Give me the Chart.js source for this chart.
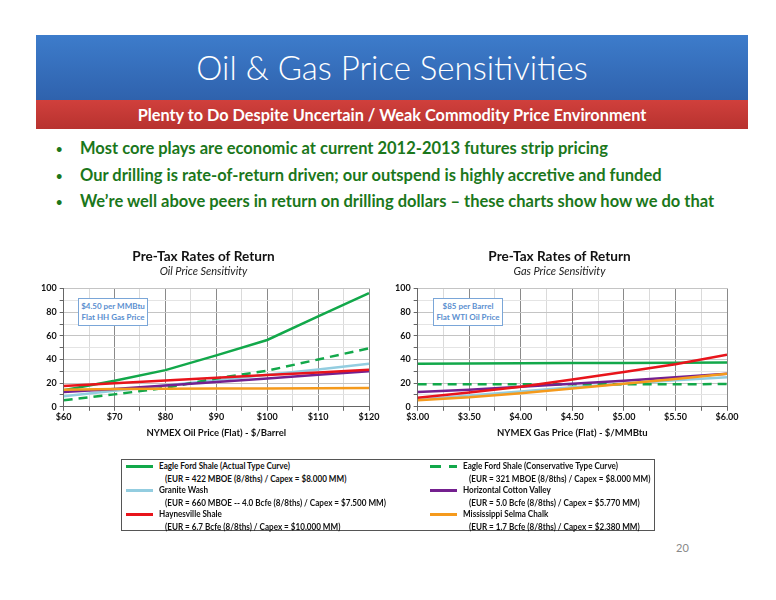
<!DOCTYPE html>
<html>
<head>
<meta charset="utf-8">
<script src="https://cdn.jsdelivr.net/npm/chart.js@4.4.1/dist/chart.umd.min.js"></script>
<style>
  body { margin: 0; background: #fff; font-family: Lato, "Open Sans", sans-serif; }
  #page { position: relative; width: 776px; height: 600px; overflow: hidden; }
  .header { position: absolute; left: 36px; top: 35px; width: 712px; height: 65px;
    background: linear-gradient(#3d7ccb, #2f62ad); color: #fff; text-align: center;
    font-size: 33px; font-weight: 300; line-height: 65px; }
  .subhead { position: absolute; left: 36px; top: 100px; width: 712px; height: 29px;
    background: linear-gradient(#d0403c, #b8322f); color: #fff; text-align: center;
    font-size: 16.3px; font-weight: bold; line-height: 29px; }
  .bullets { position: absolute; left: 52px; top: 137px; color: #1b771b; font-weight: bold; font-size: 16.5px; }
  .bullets div { height: 26.5px; line-height: 22px; position: relative; padding-left: 28px; white-space: nowrap; }
  .bullets div:before { content: "\2022"; position: absolute; left: 4px; top: 1px; color: #1b771b; font-size: 11px; }
  canvas { position: absolute; }
  .note { position: absolute; border: 1px solid #7aa6d8; background: #fff; color: #5b8fd0;
    font-size: 8px; font-weight: bold; text-align: center; line-height: 11px; padding: 2px 0; }
  .legend { position: absolute; left: 121px; top: 459px; width: 532px; height: 70px;
    border: 1px solid #555; font-size: 9px; font-weight: bold; color: #111; }
  .lg { position: absolute; width: 300px; height: 24px; }
  .lg .swatch { position: absolute; left: 0; top: 5px; width: 27px; height: 3px; }
  .lg .name, .lg .det { position: absolute; top: 0; white-space: nowrap; line-height: 12px;
    transform: scaleX(0.9); transform-origin: left center; }
  .lg .name { left: 33px; }
  .lg .det { left: 39px; top: 13px; }
  .pagenum { position: absolute; left: 676px; top: 541px; color: #888; font-size: 11px; }
</style>
</head>
<body>
<div id="page">
  <div class="header">Oil &amp; Gas Price Sensitivities</div>
  <div class="subhead">Plenty to Do Despite Uncertain / Weak Commodity Price Environment</div>
  <div class="bullets">
    <div>Most core plays are economic at current 2012-2013 futures strip pricing</div>
    <div>Our drilling is rate-of-return driven; our outspend is highly accretive and funded</div>
    <div>We’re well above peers in return on drilling dollars – these charts show how we do that</div>
  </div>
  <canvas id="oilChart" width="390" height="205" style="left:0;top:240px;width:390px;height:205px"></canvas>
  <canvas id="gasChart" width="391" height="205" style="left:385px;top:240px;width:391px;height:205px"></canvas>
  <div class="note" style="left:78px;top:298px;width:68px;">$4.50 per MMBtu<br>Flat HH Gas Price</div>
  <div class="note" style="left:433px;top:298px;width:68px;">$85 per Barrel<br>Flat WTI Oil Price</div>
  <div class="legend" id="legend"></div>
  <div class="pagenum">20</div>
</div>
<script>
// x categories
const oilPrices = [60, 70, 80, 90, 100, 110, 120];
const gasPrices = [3.0, 3.5, 4.0, 4.5, 5.0, 5.5, 6.0];

// series names / legend details
const seriesNames = [
  'Eagle Ford Shale (Actual Type Curve)',
  'Eagle Ford Shale (Conservative Type Curve)',
  'Granite Wash',
  'Horizontal Cotton Valley',
  'Haynesville Shale',
  'Mississippi Selma Chalk'
];
const seriesDetails = [
  '(EUR = 422 MBOE (8/8ths) / Capex = $8.000 MM)',
  '(EUR = 321 MBOE (8/8ths) / Capex = $8.000 MM)',
  '(EUR = 660 MBOE -- 4.0 Bcfe (8/8ths) / Capex = $7.500 MM)',
  '(EUR = 5.0 Bcfe (8/8ths) / Capex = $5.770 MM)',
  '(EUR = 6.7 Bcfe (8/8ths) / Capex = $10.000 MM)',
  '(EUR = 1.7 Bcfe (8/8ths) / Capex = $2.380 MM)'
];
const seriesColors = ['#12a84a', '#12a84a', '#93cde0', '#74208f', '#e8141b', '#f59a1c'];
const seriesDashed = [false, true, false, false, false, false];

// pre-tax ROR (%) vs oil price
const oilEagleFordActual = [14, 22, 31, 43.5, 56.5, 76.5, 96];
const oilEagleFordCons   = [5.5, 10.5, 16, 24, 30.5, 40, 49.5];
const oilGraniteWash     = [9, 13.5, 18, 22.5, 27, 31.5, 36.5];
const oilCottonValley    = [12.5, 15, 18, 21, 24, 27, 30];
const oilHaynesville     = [17.5, 20, 22.3, 24.5, 26.8, 29, 31.3];
const oilSelmaChalk      = [14.5, 15, 15.2, 15.4, 15.5, 15.6, 15.8];

// pre-tax ROR (%) vs gas price
const gasEagleFordActual = [36.5, 36.6, 36.8, 37, 37.1, 37.2, 37.5];
const gasEagleFordCons   = [19, 19, 19, 19, 19, 19, 19.3];
const gasGraniteWash     = [6, 9.5, 13, 16.5, 19.5, 22.5, 25];
const gasCottonValley    = [12.5, 14.5, 17, 19.5, 22, 25, 28];
const gasHaynesville     = [7.7, 12, 17, 23, 29.5, 36, 44];
const gasSelmaChalk      = [5.5, 8, 11.5, 15.5, 19.5, 23.5, 28];

const yTicks = [0, 20, 40, 60, 80, 100];

const oilSeries = [oilEagleFordActual, oilEagleFordCons, oilGraniteWash, oilCottonValley, oilHaynesville, oilSelmaChalk];
const gasSeries = [gasEagleFordActual, gasEagleFordCons, gasGraniteWash, gasCottonValley, gasHaynesville, gasSelmaChalk];

// draw order: Haynesville and Selma on top
const drawOrder = [3, 4, 5, 2, 1, 0];

function makeDatasets(xs, series) {
  return series.map((vals, i) => ({
    label: seriesNames[i],
    data: xs.map((x, j) => ({ x: x, y: vals[j] })),
    borderColor: seriesColors[i],
    backgroundColor: seriesColors[i],
    borderWidth: 2.5,
    borderDash: seriesDashed[i] ? [9, 6] : [],
    pointRadius: 0,
    tension: 0,
    order: drawOrder[i]
  }));
}

const tickFont = { family: 'Lato', size: 9, weight: 'bold' };

function makeChart(id, xs, series, opts) {
  new Chart(document.getElementById(id), {
    type: 'line',
    data: { datasets: makeDatasets(xs, series) },
    options: {
      responsive: false,
      animation: false,
      layout: { padding: opts.padding },
      plugins: {
        legend: { display: false },
        tooltip: { enabled: false },
        title: {
          display: true, text: 'Pre-Tax Rates of Return', color: '#111',
          font: { family: 'Lato', size: 13.6, weight: 'bold' },
          padding: { top: 8, bottom: 1 }
        },
        subtitle: {
          display: true, text: opts.subtitle, color: '#222',
          font: { family: 'Lato', size: 11, style: 'italic' },
          padding: { top: 0, bottom: 10 }
        }
      },
      scales: {
        x: {
          type: 'linear',
          min: xs[0], max: xs[xs.length - 1],
          ticks: {
            stepSize: opts.minorStep, autoSkip: false, maxRotation: 0,
            color: '#111', font: tickFont, padding: 1,
            callback: opts.tickLabel
          },
          grid: {
            color: ctx => (ctx.tick && opts.isMajor(ctx.tick.value)) ? '#8a8a8a' : '#dadada',
            tickLength: 4, tickColor: '#666'
          },
          border: { color: '#666' },
          title: {
            display: true, text: opts.xTitle, color: '#111',
            font: { family: 'Lato', size: 9.5, weight: 'bold' },
            padding: { top: 4, bottom: 0 }
          }
        },
        y: {
          min: 0, max: 100,
          ticks: {
            stepSize: 10, autoSkip: false, color: '#111', font: tickFont, padding: 3,
            callback: v => yTicks.includes(v) ? String(v) : ''
          },
          grid: {
            color: ctx => (ctx.tick && ctx.tick.value % 20 === 0) ? '#c4c4c4' : '#e4e4e4',
            tickLength: 4, tickColor: '#666'
          },
          border: { color: '#666' }
        }
      }
    }
  });
}

makeChart('oilChart', oilPrices, oilSeries, {
  subtitle: 'Oil Price Sensitivity',
  xTitle: 'NYMEX Oil Price (Flat) - $/Barrel',
  minorStep: 5,
  isMajor: v => v % 10 === 0,
  tickLabel: v => v % 10 === 0 ? '$' + v : '',
  padding: { left: 38, right: 21, bottom: 6 }
});

makeChart('gasChart', gasPrices, gasSeries, {
  subtitle: 'Gas Price Sensitivity',
  xTitle: 'NYMEX Gas Price (Flat) - $/MMBtu',
  minorStep: 0.25,
  isMajor: v => Math.abs(v * 2 - Math.round(v * 2)) < 1e-6,
  tickLabel: v => Math.abs(v * 2 - Math.round(v * 2)) < 1e-6 ? '$' + v.toFixed(2) : '',
  padding: { left: 7, right: 49, bottom: 6 }
});

// shared legend, two columns of three entries
const legendEl = document.getElementById('legend');
seriesNames.forEach((name, i) => {
  const item = document.createElement('div');
  item.className = 'lg';
  item.style.left = (i % 2 === 0 ? 4 : 308) + 'px';
  item.style.top = (Math.floor(i / 2) * 24) + 'px';
  const sw = document.createElement('div');
  sw.className = 'swatch';
  if (seriesDashed[i]) {
    sw.style.background = 'linear-gradient(90deg, ' + seriesColors[i] + ' 0 11px, transparent 11px 19px, ' + seriesColors[i] + ' 19px 27px)';
  } else {
    sw.style.background = seriesColors[i];
  }
  item.appendChild(sw);
  const nm = document.createElement('div');
  nm.className = 'name';
  nm.textContent = name;
  item.appendChild(nm);
  const dt = document.createElement('div');
  dt.className = 'det';
  dt.textContent = seriesDetails[i];
  item.appendChild(dt);
  legendEl.appendChild(item);
});
</script>
</body>
</html>
